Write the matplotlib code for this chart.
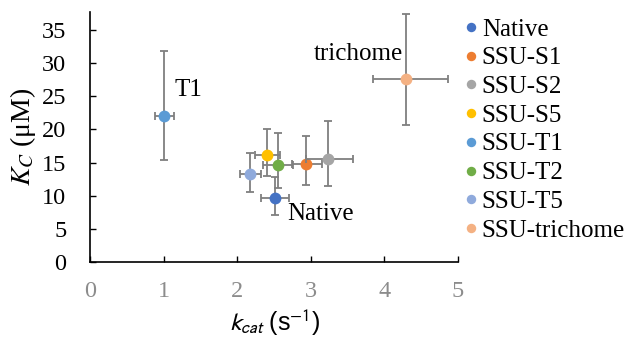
import matplotlib
matplotlib.use("Agg")
import matplotlib.pyplot as plt

############################################################
# Data
############################################################

names = ["Native", "SSU-S1", "SSU-S2", "SSU-S5", "SSU-T1", "SSU-T2", "SSU-T5", "SSU-trichome"]

kcat = [2.51, 2.93, 3.24, 2.40, 1.01, 2.56, 2.18, 4.30]
kc = [9.7, 14.8, 15.6, 16.1, 22.0, 14.7, 13.2, 27.6]

kcat_err_lo = [0.18, 0.19, 0.31, 0.16, 0.13, 0.21, 0.14, 0.45]
kcat_err_hi = [0.20, 0.22, 0.34, 0.18, 0.13, 0.20, 0.15, 0.56]
kc_err_lo = [2.6, 3.2, 4.2, 3.1, 6.6, 3.5, 2.6, 7.0]
kc_err_hi = [3.1, 4.2, 5.7, 4.0, 9.8, 4.7, 3.2, 9.8]

colors = ["#4472C4", "#ED7D31", "#A5A5A5", "#FFC000",
          "#5B9BD5", "#70AD47", "#8FAADC", "#F4B183"]

annotations = [("T1", 1.15, 25.9, "left"),
               ("trichome", 4.25, 31.3, "right"),
               ("Native", 2.68, 7.3, "left")]

x_ticks = [0, 1, 2, 3, 4, 5]
y_ticks = [0, 5, 10, 15, 20, 25, 30, 35]

############################################################
# Plot
############################################################

serif = ["Liberation Serif", "DejaVu Serif"]
sans = ["Liberation Sans", "DejaVu Sans"]

plt.rcParams["font.family"] = serif
plt.rcParams["mathtext.fontset"] = "stix"

fig = plt.figure(figsize=(6.3, 3.4), dpi=100)
ax = fig.add_axes([90 / 630, 1 - 262 / 340, 368 / 630, 250 / 340])

for i in range(len(names)):

    ax.errorbar(
        kcat[i], kc[i],
        xerr=[[kcat_err_lo[i]], [kcat_err_hi[i]]],
        yerr=[[kc_err_lo[i]], [kc_err_hi[i]]],
        fmt="none", ecolor="#7F7F7F", elinewidth=1.3,
        capsize=3, capthick=1.3, zorder=2 + i * 2
    )

    ax.plot(
        kcat[i], kc[i], "o", color=colors[i], markersize=8.5,
        markeredgewidth=0, label=names[i], zorder=3 + i * 2
    )

for text, x, y, ha in annotations:

    ax.text(x, y, text, fontsize=18, ha=ha, va="center", color="black")

ax.set_xlim(0, 5)
ax.set_ylim(0, 37.7)
ax.set_xticks(x_ticks)
ax.set_yticks(y_ticks)

ax.spines["top"].set_visible(False)
ax.spines["right"].set_visible(False)
ax.spines["left"].set_linewidth(1.2)
ax.spines["bottom"].set_linewidth(1.2)

ax.tick_params(axis="y", direction="in", length=4, width=1, pad=17, labelsize=17.5)
ax.tick_params(axis="x", direction="in", length=4, width=1, pad=14,
               labelsize=17.5, labelcolor="#8C8C8C")

ax.set_ylabel("$K_C$ (μM)", fontsize=20, labelpad=3)
ax.set_xlabel("$k_{cat}$ (s$^{-1}$)", fontsize=18, family=sans,
              math_fontfamily="stixsans", labelpad=4)

fig.legend(
    loc="upper left", bbox_to_anchor=(463 / 630, 1 - 18 / 340),
    frameon=False, fontsize=18, handlelength=0.6, handletextpad=0.15,
    labelspacing=0.25, borderaxespad=0, borderpad=0, markerscale=0.8
)

fig.savefig("out.png", dpi=100)
